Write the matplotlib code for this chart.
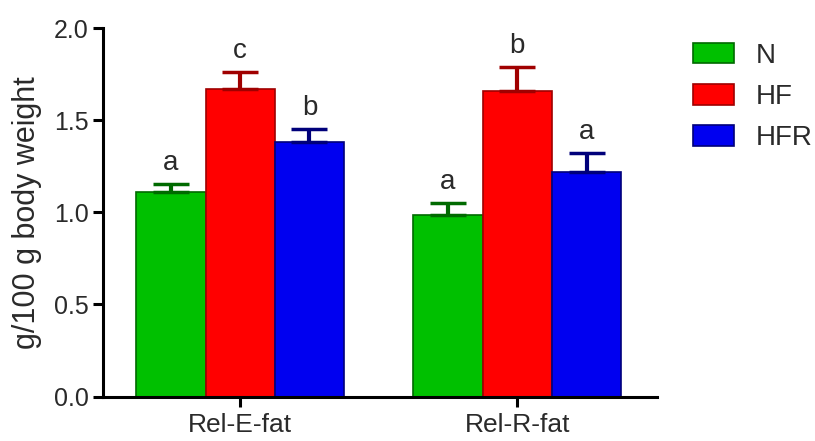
import matplotlib.pyplot as plt
import numpy as np

plt.rcParams['font.family'] = ['Liberation Sans', 'DejaVu Sans']

# groups and series
groups = ['Rel-E-fat', 'Rel-R-fat']
series = ['N', 'HF', 'HFR']
means = {
    'N': [1.11, 0.985],
    'HF': [1.67, 1.66],
    'HFR': [1.38, 1.22],
}
errs = {
    'N': [0.046, 0.065],
    'HF': [0.09, 0.127],
    'HFR': [0.07, 0.10],
}
letters = {
    'N': ['a', 'a'],
    'HF': ['c', 'b'],
    'HFR': ['b', 'a'],
}

fills = {'N': '#00c000', 'HF': '#ff0000', 'HFR': '#0000f0'}
edges = {'N': '#006a00', 'HF': '#a00000', 'HFR': '#00007a'}

fig = plt.figure(figsize=(8.15, 4.41), dpi=100)
ax = fig.add_axes([0.1264, 0.1009, 0.680, 0.8356])

centers = np.array([0, 4])
for i, s in enumerate(series):
    x = centers + (i - 1)
    ax.bar(x, means[s], width=1.0, color=fills[s], edgecolor=edges[s],
           linewidth=1.2, label=s, zorder=2)
    ax.errorbar(x, means[s], yerr=[np.zeros(2), errs[s]], fmt='none',
                ecolor=edges[s], elinewidth=3, capsize=13, capthick=2.5,
                zorder=3)
    for xi, m, e, t in zip(x, means[s], errs[s], letters[s]):
        ax.annotate(t, (xi, m + e), xytext=(0, 10), textcoords='offset points',
                    ha='center', va='baseline', fontsize=20, color='#2a2a2a')

ax.set_xlim(-1.98, 6.02)
ax.set_ylim(0, 2.0)
ax.set_yticks([0, 0.5, 1.0, 1.5, 2.0])
ax.set_yticklabels(['0.0', '0.5', '1.0', '1.5', '2.0'])
ax.set_xticks(centers)
ax.set_xticklabels(groups)
ax.set_ylabel('g/100 g body weight', fontsize=22, color='#2a2a2a', labelpad=8)

for side in ['top', 'right']:
    ax.spines[side].set_visible(False)
for side in ['left', 'bottom']:
    ax.spines[side].set_linewidth(2.2)
ax.tick_params(axis='both', direction='out', length=7, width=2.2,
               labelsize=18, labelcolor='#2a2a2a')
ax.tick_params(axis='x', labelsize=19, pad=5)

fig.legend(loc='upper left', bbox_to_anchor=(0.850, 0.903), frameon=False,
           fontsize=20, handlelength=1.5, handleheight=0.76,
           labelspacing=0.55, handletextpad=0.75, borderpad=0, borderaxespad=0,
           labelcolor='#2a2a2a')

fig.savefig('out.png', dpi=100)
